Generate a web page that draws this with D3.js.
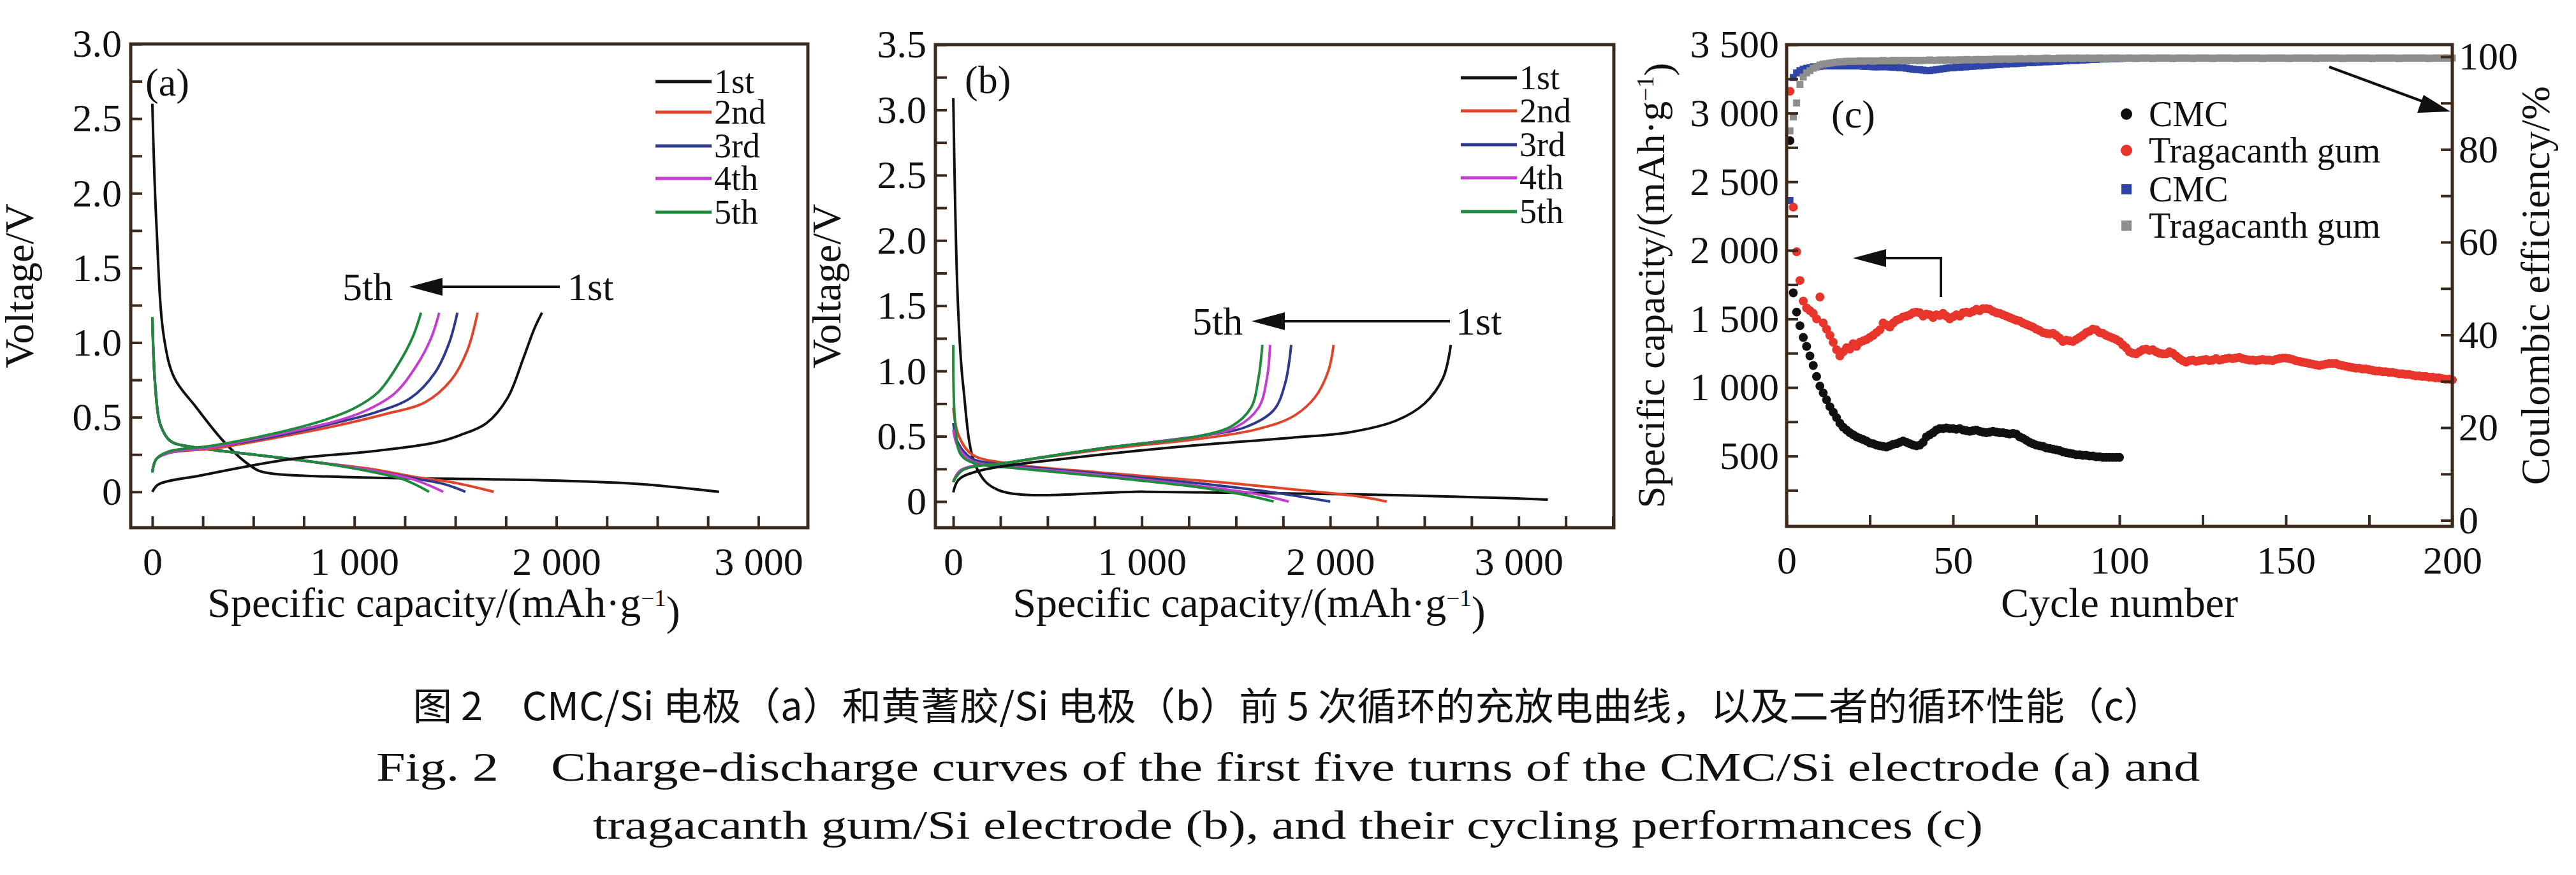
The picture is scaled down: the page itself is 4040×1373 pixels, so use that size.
<!DOCTYPE html>
<html><head><meta charset="utf-8">
<script src="https://cdn.jsdelivr.net/npm/d3@7"></script>
<style>body{margin:0;background:#fff}svg text{font-family:"Liberation Serif","DejaVu Serif",serif;fill:#111}</style>
</head><body><svg id="c" width="4040" height="1373"></svg>
<script>
const cycleLabels=["1st","2nd","3rd","4th","5th"];
const cycleColors=["#111111","#e0452c","#2e3a8c","#c23fcf","#1e8a3c"];
const aDis=[
[[0,2.6],[20,1.8],[58,1.03],[110,0.76],[215,0.57],[345,0.35],[460,0.2],[529,0.14],[607,0.12],[1078,0.095],[1864,0.08],[2387,0.055],[2806,0]],
[[0,1.17],[15,0.7],[40,0.45],[90,0.34],[200,0.3],[500,0.25],[800,0.2],[1100,0.15],[1300,0.1],[1500,0.06],[1690,0]],
[[0,1.17],[15,0.7],[40,0.45],[90,0.34],[200,0.3],[500,0.25],[800,0.2],[1100,0.14],[1300,0.09],[1450,0.05],[1550,0]],
[[0,1.17],[15,0.7],[40,0.45],[90,0.34],[200,0.3],[500,0.25],[800,0.2],[1100,0.14],[1300,0.08],[1440,0]],
[[0,1.17],[15,0.7],[40,0.45],[90,0.34],[200,0.3],[500,0.25],[800,0.2],[1100,0.13],[1250,0.08],[1370,0]]];
const aCha=[
[[0,0],[31,0.05],[240,0.11],[686,0.22],[1078,0.27],[1400,0.33],[1524,0.38],[1654,0.46],[1759,0.63],[1838,0.9],[1890,1.09],[1929,1.2]],
[[0,0.13],[20,0.22],[80,0.26],[300,0.29],[600,0.36],[900,0.44],[1150,0.52],[1350,0.6],[1480,0.75],[1560,0.95],[1610,1.2]],
[[0,0.13],[20,0.22],[80,0.26],[300,0.3],[600,0.37],[900,0.46],[1100,0.53],[1280,0.63],[1400,0.8],[1470,1.0],[1510,1.2]],
[[0,0.13],[20,0.22],[80,0.26],[300,0.3],[600,0.38],[900,0.47],[1050,0.54],[1200,0.66],[1310,0.85],[1380,1.03],[1420,1.2]],
[[0,0.13],[20,0.22],[80,0.27],[300,0.31],[600,0.39],[850,0.48],[1000,0.56],[1120,0.67],[1220,0.86],[1290,1.04],[1330,1.2]]];
const bDis=[
[[0,3.09],[25,1.5],[53,0.88],[123,0.26],[236,0.09],[1022,0.075],[2144,0.055],[2986,0.025],[3155,0.015]],
[[0,0.72],[30,0.5],[100,0.36],[300,0.29],[800,0.22],[1400,0.15],[1900,0.08],[2150,0.04],[2300,0]],
[[0,0.6],[25,0.45],[100,0.33],[300,0.28],[800,0.21],[1300,0.14],[1700,0.07],[2000,0]],
[[0,0.55],[25,0.42],[100,0.31],[300,0.27],[800,0.2],[1300,0.12],[1600,0.06],[1780,0]],
[[0,1.2],[10,0.6],[40,0.36],[120,0.29],[300,0.26],[800,0.19],[1300,0.11],[1550,0.05],[1700,0]]];
const bCha=[
[[0,0.07],[30,0.17],[150,0.24],[600,0.33],[1200,0.42],[1800,0.49],[2100,0.53],[2350,0.62],[2500,0.75],[2600,0.95],[2640,1.2]],
[[0,0.15],[40,0.24],[300,0.3],[800,0.4],[1300,0.48],[1600,0.55],[1800,0.65],[1920,0.8],[1990,1.0],[2018,1.2]],
[[0,0.15],[40,0.24],[300,0.3],[800,0.41],[1300,0.5],[1550,0.57],[1700,0.7],[1760,0.9],[1793,1.2]],
[[0,0.15],[40,0.24],[300,0.3],[800,0.41],[1300,0.5],[1500,0.57],[1620,0.72],[1665,0.95],[1681,1.2]],
[[0,0.15],[50,0.24],[300,0.3],[800,0.41],[1300,0.5],[1480,0.58],[1580,0.72],[1620,0.95],[1640,1.2]]];
const cmcCap=[2800,1690,1550,1450,1365,1300,1230,1160,1080,1010,960,910,860,820,780,740,710,690,670,655,
640,630,620,610,595,590,580,575,570,565,575,585,590,600,610,600,590,580,575,580,
600,640,655,670,690,700,700,705,700,700,695,700,690,685,680,685,690,680,675,670,
675,680,675,670,670,665,660,665,660,640,630,615,600,590,580,575,570,560,555,550,
545,540,530,525,520,515,510,510,505,505,500,500,495,495,490,490,490,490,490,490];
const tragCap=[3160,2315,1990,1780,1630,1580,1560,1540,1500,1660,1470,1425,1380,1330,1275,1230,1260,1290,1280,1320,
1300,1330,1340,1350,1365,1380,1400,1420,1470,1455,1440,1470,1490,1500,1515,1520,1530,1545,1550,1545,
1520,1535,1530,1510,1530,1525,1540,1520,1500,1515,1530,1520,1545,1550,1545,1555,1570,1560,1575,1575,
1570,1555,1545,1540,1530,1520,1510,1500,1490,1485,1470,1460,1450,1440,1425,1415,1400,1395,1390,1395,
1380,1360,1335,1345,1340,1335,1350,1365,1380,1400,1410,1425,1420,1400,1395,1380,1370,1360,1350,1335,
1310,1290,1260,1250,1245,1260,1275,1280,1270,1275,1260,1250,1245,1245,1260,1250,1230,1210,1195,1185,
1195,1200,1190,1195,1200,1205,1195,1200,1210,1200,1205,1210,1215,1210,1215,1220,1210,1205,1200,1200,
1195,1200,1205,1200,1200,1195,1205,1210,1215,1215,1210,1205,1195,1190,1185,1180,1175,1170,1165,1160,
1165,1170,1175,1175,1175,1165,1160,1155,1150,1145,1140,1140,1135,1135,1130,1125,1120,1120,1115,1115,
1110,1110,1105,1100,1100,1095,1095,1090,1085,1085,1080,1080,1075,1075,1070,1070,1065,1060,1060,1055];
const cmcCE=[69,95.5,96.5,97,97.3,97.5,97.6,97.8,97.8,97.9,98,98,98,98.1,98,98,98.1,98,98,98.1,
98,98,97.9,97.9,97.9,97.8,97.8,97.8,97.9,97.8,97.8,97.7,97.7,97.6,97.6,97.5,97.4,97.3,97.2,97.2,
97.1,97,97,97.1,97.2,97.3,97.4,97.5,97.6,97.6,97.7,97.7,97.8,97.8,97.9,97.9,98,98,98.1,98.1,
98.2,98.2,98.3,98.3,98.4,98.4,98.5,98.5,98.5,98.6,98.6,98.7,98.7,98.7,98.8,98.8,98.9,98.9,98.9,99,
99,99,99.1,99.1,99.2,99.2,99.2,99.3,99.3,99.3,99.4,99.4,99.4,99.5,99.5,99.5,99.6,99.6,99.6,99.6];
const tragCE=[84,87,90,94,95.6,96.5,97,97.5,97.8,98.2,98.4,98.5,98.6,98.7,98.8,98.9,98.9,99,99,99,
99,99.1,99,99.1,99.1,99,99.1,99.1,99.2,99.1,99.1,99.2,99.1,99.2,99.2,99.1,99.2,99.2,99.2,99.1,
99.2,99.2,99.3,99.2,99.2,99.3,99.2,99.3,99.3,99.2,99.3,99.3,99.3,99.4,99.3,99.3,99.4,99.4,99.3,99.4,
99.4,99.4,99.5,99.4,99.5,99.5,99.4,99.5,99.5,99.6,99.5,99.5,99.6,99.6,99.5,99.6,99.6,99.7,99.6,99.6,
99.6,99.7,99.6,99.7,99.7,99.6,99.7,99.7,99.6,99.7,99.7,99.6,99.7,99.7,99.7,99.6,99.7,99.7,99.7,99.7,
99.6,99.7,99.7,99.7,99.6,99.7,99.7,99.7,99.7,99.6,99.7,99.7,99.7,99.7,99.7,99.6,99.7,99.7,99.7,99.7,
99.7,99.6,99.7,99.7,99.7,99.7,99.7,99.6,99.7,99.7,99.7,99.7,99.7,99.7,99.6,99.7,99.7,99.7,99.7,99.7,
99.7,99.7,99.6,99.7,99.7,99.7,99.7,99.7,99.7,99.7,99.6,99.7,99.7,99.7,99.7,99.7,99.7,99.7,99.6,99.7,
99.7,99.7,99.7,99.7,99.7,99.7,99.6,99.7,99.7,99.7,99.7,99.7,99.7,99.7,99.7,99.6,99.7,99.7,99.7,99.7,
99.7,99.7,99.7,99.6,99.7,99.7,99.7,99.7,99.7,99.7,99.7,99.7,99.6,99.7,99.7,99.7,99.7,99.7,99.7,99.7];
const capTickLabels={0:"0",1000:"1 000",2000:"2 000",3000:"3 000"};
const leftCapLabels={500:"500",1000:"1 000",1500:"1 500",2000:"2 000",2500:"2 500",3000:"3 000",3500:"3 500"};
const captions=["图 2　CMC/Si 电极（a）和黄蓍胶/Si 电极（b）前 5 次循环的充放电曲线，以及二者的循环性能（c）",
"Fig. 2　Charge-discharge curves of the first five turns of the CMC/Si electrode (a) and",
"tragacanth gum/Si electrode (b), and their cycling performances (c)"];

const svg=d3.select("#c");
svg.append("rect").attr("width",4040).attr("height",1373).attr("fill","#fff");
const FS=62, LFS=54, frameCol="#3b2a1c";

function vPanel(o){
  const x=d3.scaleLinear().domain(o.xd).range([o.l,o.r]);
  const y=d3.scaleLinear().domain(o.yd).range([o.b,o.t]);
  const g=svg.append("g");
  const line=d3.line().x(d=>x(d[0])).y(d=>y(d[1])).curve(d3.curveCatmullRom.alpha(0.5));
  [o.dis,o.cha].forEach(set=>set.forEach((s,i)=>g.append("path").attr("d",line(s)).attr("fill","none").attr("stroke",cycleColors[i]).attr("stroke-width",4)));
  const xa=d3.axisBottom(x).tickValues(d3.range(0,o.xd[1],250)).tickSize(-18).tickFormat(d=>capTickLabels[d]||"");
  const gx=g.append("g").attr("transform",`translate(0,${o.b})`).call(xa);
  gx.select(".domain").remove();
  gx.selectAll("line").attr("stroke",frameCol).attr("stroke-width",4);
  gx.selectAll("text").attr("font-size",FS).attr("dy","1.15em");
  const ya=d3.axisLeft(y).tickValues(d3.range(0,o.yd[1]+0.01,0.25)).tickSize(-18).tickFormat(d=>Math.abs(d*2-Math.round(d*2))<1e-6?(d===0?"0":d.toFixed(1)):"");
  const gy=g.append("g").attr("transform",`translate(${o.l},0)`).call(ya);
  gy.select(".domain").remove();
  gy.selectAll("line").attr("stroke",frameCol).attr("stroke-width",4);
  gy.selectAll("text").attr("font-size",FS).attr("x",-14);
  g.append("rect").attr("x",o.l).attr("y",o.t).attr("width",o.r-o.l).attr("height",o.b-o.t).attr("fill","none").attr("stroke",frameCol).attr("stroke-width",5);
  g.append("text").attr("x",(o.l+o.r)/2-40).attr("y",968).attr("text-anchor","middle").attr("font-size",FS+4)
    .html('Specific capacity/(mAh·g<tspan dy="-0.45em" font-size="'+(FS*0.6)+'">−1</tspan><tspan dy="0.45em">)</tspan>');
  g.append("text").attr("transform",`translate(${o.ytx},${(o.t+o.b)/2}) rotate(-90)`).attr("text-anchor","middle").attr("font-size",FS+2).text("Voltage/V");
  g.append("text").attr("x",o.lab[0]).attr("y",o.lab[1]+22).attr("font-size",FS).text(o.label);
  cycleLabels.forEach((c,i)=>{
    const yy=o.legY[i];
    g.append("line").attr("x1",o.legX).attr("x2",o.legX+88).attr("y1",yy).attr("y2",yy).attr("stroke",cycleColors[i]).attr("stroke-width",5);
    g.append("text").attr("x",o.legX+92).attr("y",yy+18).attr("font-size",LFS).text(c);
  });
  const ay=o.ann.y;
  g.append("text").attr("x",o.ann.t5).attr("y",ay+21).attr("font-size",FS).text("5th");
  g.append("line").attr("x1",o.ann.x1).attr("x2",o.ann.x0+30).attr("y1",ay).attr("y2",ay).attr("stroke","#111").attr("stroke-width",4);
  g.append("path").attr("d",`M${o.ann.x0},${ay}L${o.ann.x0+52},${ay-14}L${o.ann.x0+52},${ay+14}Z`).attr("fill","#111");
  g.append("text").attr("x",o.ann.t1).attr("y",ay+21).attr("font-size",FS).text("1st");
}
vPanel({xd:[-107,3245],yd:[-0.24,3.0],l:205,r:1267,t:69,b:828,dis:aDis,cha:aCha,ytx:52,label:"(a)",lab:[228,128],
  legX:1028,legY:[128,176,229,280,333],ann:{y:450,t5:537,x0:642,x1:878,t1:890}});
vPanel({xd:[-95,3505],yd:[-0.2,3.5],l:1467,r:2531,t:70,b:828,dis:bDis,cha:bCha,ytx:1318,label:"(b)",lab:[1513,124],
  legX:2291,legY:[122,174,227,279,332],ann:{y:504,t5:1870,x0:1963,x1:2274,t1:2283}});

(function(){
  const l=2802,r=3846,t=70,b=826;
  const x=d3.scaleLinear().domain([0,200]).range([l,r]);
  const y=d3.scaleLinear().domain([-13,3500]).range([b,t]);
  const y2=d3.scaleLinear().domain([-1.3,102.6]).range([b,t]);
  const g=svg.append("g");
  const sq=11;
  cmcCE.forEach((v,i)=>g.append("rect").attr("x",x(i+1)-sq/2).attr("y",y2(v)-sq/2).attr("width",sq).attr("height",sq).attr("fill","#2f45a8"));
  tragCE.forEach((v,i)=>g.append("rect").attr("x",x(i+1)-sq/2).attr("y",y2(v)-sq/2).attr("width",sq).attr("height",sq).attr("fill","#8e8e8e"));
  tragCap.forEach((v,i)=>g.append("circle").attr("cx",x(i+1)).attr("cy",y(v)).attr("r",7).attr("fill","#e8352b"));
  cmcCap.forEach((v,i)=>g.append("circle").attr("cx",x(i+1)).attr("cy",y(v)).attr("r",7).attr("fill","#111"));
  const gx=g.append("g").attr("transform",`translate(0,${b})`).call(d3.axisBottom(x).tickValues(d3.range(0,201,25)).tickSize(-18).tickFormat(d=>d%50===0?d:""));
  gx.select(".domain").remove();
  gx.selectAll("line").attr("stroke",frameCol).attr("stroke-width",4);
  gx.selectAll("text").attr("font-size",FS).attr("dy","1.15em");
  const gy=g.append("g").attr("transform",`translate(${l},0)`).call(d3.axisLeft(y).tickValues(d3.range(250,3501,250)).tickSize(-18).tickFormat(d=>leftCapLabels[d]||""));
  gy.select(".domain").remove();
  gy.selectAll("line").attr("stroke",frameCol).attr("stroke-width",4);
  gy.selectAll("text").attr("font-size",FS).attr("x",-12);
  const gy2=g.append("g").attr("transform",`translate(${r},0)`).call(d3.axisRight(y2).tickValues(d3.range(0,101,10)).tickSize(-18).tickFormat(d=>d%20===0?d:""));
  gy2.select(".domain").remove();
  gy2.selectAll("line").attr("stroke",frameCol).attr("stroke-width",4);
  gy2.selectAll("text").attr("font-size",FS).attr("x",10);
  g.append("rect").attr("x",l).attr("y",t).attr("width",r-l).attr("height",b-t).attr("fill","none").attr("stroke",frameCol).attr("stroke-width",5);
  g.append("text").attr("x",(l+r)/2).attr("y",968).attr("text-anchor","middle").attr("font-size",FS+4).text("Cycle number");
  g.append("text").attr("transform",`translate(2610,${(t+b)/2}) rotate(-90)`).attr("text-anchor","middle").attr("font-size",FS)
    .html('Specific capacity/(mAh·g<tspan dy="-0.45em" font-size="'+(FS*0.6)+'">−1</tspan><tspan dy="0.45em">)</tspan>');
  g.append("text").attr("transform",`translate(3998,${(t+b)/2}) rotate(-90)`).attr("text-anchor","middle").attr("font-size",FS+2).text("Coulombic efficiency/%");
  g.append("text").attr("x",2872).attr("y",200).attr("font-size",FS).text("(c)");
  const legs=[["CMC","circle","#111"],["Tragacanth gum","circle","#e8352b"],["CMC","rect","#2f45a8"],["Tragacanth gum","rect","#8e8e8e"]];
  const ly=[179,236,297,354];
  legs.forEach((d,i)=>{
    if(d[1]==="circle") g.append("circle").attr("cx",3335).attr("cy",ly[i]).attr("r",9).attr("fill",d[2]);
    else g.append("rect").attr("x",3327).attr("y",ly[i]-8).attr("width",16).attr("height",16).attr("fill",d[2]);
    g.append("text").attr("x",3370).attr("y",ly[i]+19).attr("font-size",LFS+2).text(d[0]);
  });
  g.append("path").attr("d","M3044,466V405H2935").attr("fill","none").attr("stroke","#111").attr("stroke-width",4);
  g.append("path").attr("d","M2906,405L2958,391L2958,419Z").attr("fill","#111");
  g.append("line").attr("x1",3653).attr("y1",105).attr("x2",3810).attr("y2",163).attr("stroke","#111").attr("stroke-width",4);
  g.append("path").attr("d","M3843,175L3791,177L3801,149Z").attr("fill","#111");
})();

const cy=[1130,1225,1316];
svg.append("text").attr("x",2020).attr("y",cy[0]).attr("text-anchor","middle").attr("font-size",60)
  .style("font-family",'"Noto Sans CJK SC","Liberation Serif",serif').attr("textLength",2745).attr("lengthAdjust","spacingAndGlyphs").text(captions[0]);
svg.append("text").attr("x",2020).attr("y",cy[1]).attr("text-anchor","middle").attr("font-size",64).attr("textLength",2860).attr("lengthAdjust","spacingAndGlyphs").text(captions[1]);
svg.append("text").attr("x",2020).attr("y",cy[2]).attr("text-anchor","middle").attr("font-size",64).attr("textLength",2180).attr("lengthAdjust","spacingAndGlyphs").text(captions[2]);
</script></body></html>
